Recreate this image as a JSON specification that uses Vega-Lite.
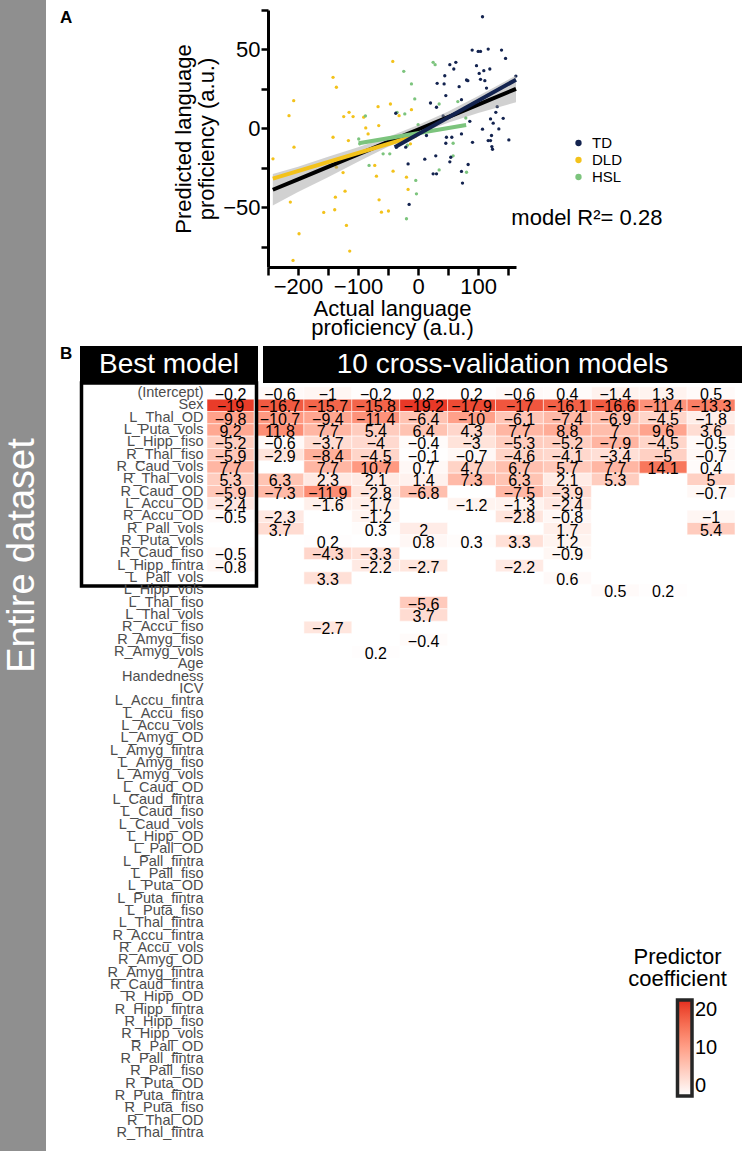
{
  "$schema": "https://vega.github.io/schema/vega-lite/v6.json",
  "width": 750,
  "height": 1151,
  "autosize": {"type": "none"},
  "padding": 0,
  "background": "white",
  "config": {
    "view": {"stroke": null},
    "font": "Liberation Sans",
    "axis": {"grid": false, "labelFont": "Liberation Sans", "titleFont": "Liberation Sans"},
    "legend": {"labelFont": "Liberation Sans", "titleFont": "Liberation Sans"}
  },
  "datasets": {
    "strip": [{"label": "Entire dataset"}],
    "points": [
      {"group": "DLD", "actual": -241.7, "predicted": -19.4},
      {"group": "DLD", "actual": -215, "predicted": 8},
      {"group": "DLD", "actual": -207.2, "predicted": 17.5},
      {"group": "DLD", "actual": -206.7, "predicted": -12},
      {"group": "DLD", "actual": -212.8, "predicted": -46.8},
      {"group": "DLD", "actual": -198.3, "predicted": -66.9},
      {"group": "DLD", "actual": -208.3, "predicted": -83.8},
      {"group": "DLD", "actual": -141.7, "predicted": 32.3},
      {"group": "DLD", "actual": -136.1, "predicted": 26},
      {"group": "DLD", "actual": -141.7, "predicted": -5.7},
      {"group": "DLD", "actual": -136.1, "predicted": -24.7},
      {"group": "DLD", "actual": -137.8, "predicted": -43.7},
      {"group": "DLD", "actual": -138.9, "predicted": -51.7},
      {"group": "DLD", "actual": -157.2, "predicted": -53.4},
      {"group": "DLD", "actual": -123.9, "predicted": 7.4},
      {"group": "DLD", "actual": -115, "predicted": 10.1},
      {"group": "DLD", "actual": -108.3, "predicted": 7.4},
      {"group": "DLD", "actual": -116.1, "predicted": -7.8},
      {"group": "DLD", "actual": -125, "predicted": -28.1},
      {"group": "DLD", "actual": -121.7, "predicted": -39.9},
      {"group": "DLD", "actual": -119.4, "predicted": -61.6},
      {"group": "DLD", "actual": -113.9, "predicted": -77.9},
      {"group": "DLD", "actual": -90.6, "predicted": 7},
      {"group": "DLD", "actual": -87.2, "predicted": 0.2},
      {"group": "DLD", "actual": -83.3, "predicted": -3.6},
      {"group": "DLD", "actual": -66.7, "predicted": 13.7},
      {"group": "DLD", "actual": -65.6, "predicted": 1.7},
      {"group": "DLD", "actual": -72.2, "predicted": -23.6},
      {"group": "DLD", "actual": -69.4, "predicted": -30.4},
      {"group": "DLD", "actual": -65, "predicted": -45.4},
      {"group": "DLD", "actual": -61.1, "predicted": -53.2},
      {"group": "DLD", "actual": -49.4, "predicted": -52.5},
      {"group": "DLD", "actual": -42.2, "predicted": 42.4},
      {"group": "DLD", "actual": -46.1, "predicted": 15.4},
      {"group": "DLD", "actual": -41.7, "predicted": -27.2},
      {"group": "DLD", "actual": -31.7, "predicted": 8},
      {"group": "DLD", "actual": -19.4, "predicted": -31},
      {"group": "DLD", "actual": -16.7, "predicted": -38.8},
      {"group": "DLD", "actual": -11.1, "predicted": 11.8},
      {"group": "DLD", "actual": -12.8, "predicted": -9.9},
      {"group": "HSL", "actual": -98.9, "predicted": -6.8},
      {"group": "HSL", "actual": -97.2, "predicted": -9.9},
      {"group": "HSL", "actual": -87.8, "predicted": 7.8},
      {"group": "HSL", "actual": -81.7, "predicted": -23.6},
      {"group": "HSL", "actual": -58.3, "predicted": -16.2},
      {"group": "HSL", "actual": -47.2, "predicted": -16.2},
      {"group": "HSL", "actual": -35, "predicted": 10.1},
      {"group": "HSL", "actual": -22.2, "predicted": 9.1},
      {"group": "HSL", "actual": -23.9, "predicted": 36.1},
      {"group": "HSL", "actual": -11.1, "predicted": 28.1},
      {"group": "HSL", "actual": -5.6, "predicted": 18.6},
      {"group": "HSL", "actual": -17.8, "predicted": -10.8},
      {"group": "HSL", "actual": -19.4, "predicted": -57.4},
      {"group": "HSL", "actual": -3.9, "predicted": -33.1},
      {"group": "HSL", "actual": -2.8, "predicted": -41.6},
      {"group": "HSL", "actual": 0, "predicted": 2.3},
      {"group": "HSL", "actual": 25, "predicted": 41.8},
      {"group": "HSL", "actual": 28.3, "predicted": 40.3},
      {"group": "HSL", "actual": 35, "predicted": 15.4},
      {"group": "HSL", "actual": 35, "predicted": -26.4},
      {"group": "HSL", "actual": 58.3, "predicted": -9.5},
      {"group": "HSL", "actual": 58.3, "predicted": -17.5},
      {"group": "HSL", "actual": 66.1, "predicted": 16.9},
      {"group": "HSL", "actual": 79.4, "predicted": 6.5},
      {"group": "HSL", "actual": 80.6, "predicted": -27.9},
      {"group": "TD", "actual": -37.2, "predicted": 9.5},
      {"group": "TD", "actual": -36.1, "predicted": -12},
      {"group": "TD", "actual": -20.6, "predicted": -12},
      {"group": "TD", "actual": -16.7, "predicted": -22.6},
      {"group": "TD", "actual": -15, "predicted": -48.3},
      {"group": "TD", "actual": 13.9, "predicted": -4.6},
      {"group": "TD", "actual": 11.1, "predicted": -19.6},
      {"group": "TD", "actual": 20.6, "predicted": 16},
      {"group": "TD", "actual": 25, "predicted": -28.9},
      {"group": "TD", "actual": 30.6, "predicted": -28.9},
      {"group": "TD", "actual": 29.4, "predicted": -17.5},
      {"group": "TD", "actual": 30.6, "predicted": 13.3},
      {"group": "TD", "actual": 31.7, "predicted": 28.5},
      {"group": "TD", "actual": 43.3, "predicted": 28.1},
      {"group": "TD", "actual": 44.4, "predicted": 33.3},
      {"group": "TD", "actual": 46.1, "predicted": 20.7},
      {"group": "TD", "actual": 41.7, "predicted": 7.8},
      {"group": "TD", "actual": 46.1, "predicted": -9.5},
      {"group": "TD", "actual": 47.2, "predicted": -5.7},
      {"group": "TD", "actual": 52.8, "predicted": 40.3},
      {"group": "TD", "actual": 52.8, "predicted": -21.3},
      {"group": "TD", "actual": 54.4, "predicted": -18.4},
      {"group": "TD", "actual": 56.1, "predicted": -5.7},
      {"group": "TD", "actual": 59.4, "predicted": 37.6},
      {"group": "TD", "actual": 62.8, "predicted": 41.8},
      {"group": "TD", "actual": 68.3, "predicted": 26.4},
      {"group": "TD", "actual": 72.2, "predicted": 18.1},
      {"group": "TD", "actual": 72.2, "predicted": -3.6},
      {"group": "TD", "actual": 72.2, "predicted": -27.4},
      {"group": "TD", "actual": 73.9, "predicted": -34.8},
      {"group": "TD", "actual": 83.3, "predicted": -23},
      {"group": "TD", "actual": 80.6, "predicted": 30.6},
      {"group": "TD", "actual": 82.8, "predicted": 30.2},
      {"group": "TD", "actual": 86.1, "predicted": 4.4},
      {"group": "TD", "actual": 90, "predicted": 49.6},
      {"group": "TD", "actual": 90.6, "predicted": -8.9},
      {"group": "TD", "actual": 97.2, "predicted": 39.7},
      {"group": "TD", "actual": 100, "predicted": 48.7},
      {"group": "TD", "actual": 103.9, "predicted": 48.7},
      {"group": "TD", "actual": 101.7, "predicted": 34.8},
      {"group": "TD", "actual": 103.9, "predicted": 31},
      {"group": "TD", "actual": 107.2, "predicted": 70.7},
      {"group": "TD", "actual": 107.2, "predicted": -0.6},
      {"group": "TD", "actual": 111.1, "predicted": 30.2},
      {"group": "TD", "actual": 109.4, "predicted": 36.5},
      {"group": "TD", "actual": 113.9, "predicted": 25.5},
      {"group": "TD", "actual": 116.7, "predicted": 50.2},
      {"group": "TD", "actual": 119.4, "predicted": 37.6},
      {"group": "TD", "actual": 120.6, "predicted": 5.9},
      {"group": "TD", "actual": 122.2, "predicted": -4.6},
      {"group": "TD", "actual": 120.6, "predicted": -7.8},
      {"group": "TD", "actual": 122.8, "predicted": -11.6},
      {"group": "TD", "actual": 123.9, "predicted": -13.3},
      {"group": "TD", "actual": 116.7, "predicted": -7.8},
      {"group": "TD", "actual": 125, "predicted": 3.2},
      {"group": "TD", "actual": 129.4, "predicted": 10.1},
      {"group": "TD", "actual": 131.7, "predicted": 13.7},
      {"group": "TD", "actual": 134.4, "predicted": -0.4},
      {"group": "TD", "actual": 138.9, "predicted": 49.6},
      {"group": "TD", "actual": 141.7, "predicted": 6.3},
      {"group": "TD", "actual": 145.6, "predicted": 44.3},
      {"group": "TD", "actual": 151.1, "predicted": -7.4},
      {"group": "TD", "actual": 162.8, "predicted": 33.1}
    ],
    "fit": [
      {"actual": -242, "fitted": -39, "lo": -49, "hi": -29},
      {"actual": -200, "fitted": -32.4, "lo": -40.4, "hi": -24.4},
      {"actual": -150, "fitted": -24.5, "lo": -31, "hi": -18},
      {"actual": -100, "fitted": -16.6, "lo": -21.2, "hi": -12},
      {"actual": -50, "fitted": -8.7, "lo": -11.8, "hi": -5.6},
      {"actual": 0, "fitted": -0.8, "lo": -3.6, "hi": 2},
      {"actual": 50, "fitted": 7.1, "lo": 3.5, "hi": 10.7},
      {"actual": 100, "fitted": 15, "lo": 9.6, "hi": 20.4},
      {"actual": 163, "fitted": 25, "lo": 16.5, "hi": 33.5}
    ],
    "groupfits": [
      {"group": "DLD", "actual": -242, "predicted": -32},
      {"group": "DLD", "actual": -3, "predicted": -4.6},
      {"group": "HSL", "actual": -99, "predicted": -9.5},
      {"group": "HSL", "actual": 80, "predicted": 2.1},
      {"group": "TD", "actual": -39, "predicted": -12},
      {"group": "TD", "actual": 163, "predicted": 30.8}
    ],
    "bestHeader": [{"panel": "Best model"}],
    "cvHeader": [{"panel": "10 cross-validation models"}],
    "best": [
      {"model": "Best model", "predictor": "(Intercept)", "coef": -0.2},
      {"model": "Best model", "predictor": "Sex", "coef": -19},
      {"model": "Best model", "predictor": "L_Thal_OD", "coef": -9.8},
      {"model": "Best model", "predictor": "L_Puta_vols", "coef": 9.2},
      {"model": "Best model", "predictor": "L_Hipp_fiso", "coef": -5.2},
      {"model": "Best model", "predictor": "R_Thal_fiso", "coef": -5.9},
      {"model": "Best model", "predictor": "R_Caud_vols", "coef": 7.7},
      {"model": "Best model", "predictor": "R_Thal_vols", "coef": 5.3},
      {"model": "Best model", "predictor": "R_Caud_OD", "coef": -5.9},
      {"model": "Best model", "predictor": "L_Accu_OD", "coef": -2.4},
      {"model": "Best model", "predictor": "R_Accu_OD", "coef": -0.5},
      {"model": "Best model", "predictor": "R_Caud_fiso", "coef": -0.5},
      {"model": "Best model", "predictor": "L_Hipp_fintra", "coef": -0.8}
    ],
    "cv": [
      {"model": "1", "predictor": "(Intercept)", "coef": -0.6},
      {"model": "2", "predictor": "(Intercept)", "coef": -1},
      {"model": "3", "predictor": "(Intercept)", "coef": -0.2},
      {"model": "4", "predictor": "(Intercept)", "coef": 0.2},
      {"model": "5", "predictor": "(Intercept)", "coef": 0.2},
      {"model": "6", "predictor": "(Intercept)", "coef": -0.6},
      {"model": "7", "predictor": "(Intercept)", "coef": 0.4},
      {"model": "8", "predictor": "(Intercept)", "coef": -1.4},
      {"model": "9", "predictor": "(Intercept)", "coef": 1.3},
      {"model": "10", "predictor": "(Intercept)", "coef": 0.5},
      {"model": "1", "predictor": "Sex", "coef": -16.7},
      {"model": "2", "predictor": "Sex", "coef": -15.7},
      {"model": "3", "predictor": "Sex", "coef": -15.8},
      {"model": "4", "predictor": "Sex", "coef": -19.2},
      {"model": "5", "predictor": "Sex", "coef": -17.9},
      {"model": "6", "predictor": "Sex", "coef": -17},
      {"model": "7", "predictor": "Sex", "coef": -16.1},
      {"model": "8", "predictor": "Sex", "coef": -16.6},
      {"model": "9", "predictor": "Sex", "coef": -11.4},
      {"model": "10", "predictor": "Sex", "coef": -13.3},
      {"model": "1", "predictor": "L_Thal_OD", "coef": -10.7},
      {"model": "2", "predictor": "L_Thal_OD", "coef": -9.4},
      {"model": "3", "predictor": "L_Thal_OD", "coef": -11.4},
      {"model": "4", "predictor": "L_Thal_OD", "coef": -6.4},
      {"model": "5", "predictor": "L_Thal_OD", "coef": -10},
      {"model": "6", "predictor": "L_Thal_OD", "coef": -6.1},
      {"model": "7", "predictor": "L_Thal_OD", "coef": -7.4},
      {"model": "8", "predictor": "L_Thal_OD", "coef": -6.9},
      {"model": "9", "predictor": "L_Thal_OD", "coef": -4.5},
      {"model": "10", "predictor": "L_Thal_OD", "coef": -1.8},
      {"model": "1", "predictor": "L_Puta_vols", "coef": 11.8},
      {"model": "2", "predictor": "L_Puta_vols", "coef": 7.7},
      {"model": "3", "predictor": "L_Puta_vols", "coef": 5.4},
      {"model": "4", "predictor": "L_Puta_vols", "coef": 6.4},
      {"model": "5", "predictor": "L_Puta_vols", "coef": 4.3},
      {"model": "6", "predictor": "L_Puta_vols", "coef": 7.7},
      {"model": "7", "predictor": "L_Puta_vols", "coef": 8.8},
      {"model": "8", "predictor": "L_Puta_vols", "coef": 7},
      {"model": "9", "predictor": "L_Puta_vols", "coef": 9.6},
      {"model": "10", "predictor": "L_Puta_vols", "coef": 3.6},
      {"model": "1", "predictor": "L_Hipp_fiso", "coef": -0.6},
      {"model": "2", "predictor": "L_Hipp_fiso", "coef": -3.7},
      {"model": "3", "predictor": "L_Hipp_fiso", "coef": -4},
      {"model": "4", "predictor": "L_Hipp_fiso", "coef": -0.4},
      {"model": "5", "predictor": "L_Hipp_fiso", "coef": -3},
      {"model": "6", "predictor": "L_Hipp_fiso", "coef": -5.3},
      {"model": "7", "predictor": "L_Hipp_fiso", "coef": -5.2},
      {"model": "8", "predictor": "L_Hipp_fiso", "coef": -7.9},
      {"model": "9", "predictor": "L_Hipp_fiso", "coef": -4.5},
      {"model": "10", "predictor": "L_Hipp_fiso", "coef": -0.5},
      {"model": "1", "predictor": "R_Thal_fiso", "coef": -2.9},
      {"model": "2", "predictor": "R_Thal_fiso", "coef": -8.4},
      {"model": "3", "predictor": "R_Thal_fiso", "coef": -4.5},
      {"model": "4", "predictor": "R_Thal_fiso", "coef": -0.1},
      {"model": "5", "predictor": "R_Thal_fiso", "coef": -0.7},
      {"model": "6", "predictor": "R_Thal_fiso", "coef": -4.6},
      {"model": "7", "predictor": "R_Thal_fiso", "coef": -4.1},
      {"model": "8", "predictor": "R_Thal_fiso", "coef": -3.4},
      {"model": "9", "predictor": "R_Thal_fiso", "coef": -5},
      {"model": "10", "predictor": "R_Thal_fiso", "coef": -0.7},
      {"model": "2", "predictor": "R_Caud_vols", "coef": 7.7},
      {"model": "3", "predictor": "R_Caud_vols", "coef": 10.7},
      {"model": "4", "predictor": "R_Caud_vols", "coef": 0.7},
      {"model": "5", "predictor": "R_Caud_vols", "coef": 4.7},
      {"model": "6", "predictor": "R_Caud_vols", "coef": 6.7},
      {"model": "7", "predictor": "R_Caud_vols", "coef": 5.7},
      {"model": "8", "predictor": "R_Caud_vols", "coef": 7.7},
      {"model": "9", "predictor": "R_Caud_vols", "coef": 14.1},
      {"model": "10", "predictor": "R_Caud_vols", "coef": 0.4},
      {"model": "1", "predictor": "R_Thal_vols", "coef": 6.3},
      {"model": "2", "predictor": "R_Thal_vols", "coef": 2.3},
      {"model": "3", "predictor": "R_Thal_vols", "coef": 2.1},
      {"model": "4", "predictor": "R_Thal_vols", "coef": 1.4},
      {"model": "5", "predictor": "R_Thal_vols", "coef": 7.3},
      {"model": "6", "predictor": "R_Thal_vols", "coef": 6.3},
      {"model": "7", "predictor": "R_Thal_vols", "coef": 2.1},
      {"model": "8", "predictor": "R_Thal_vols", "coef": 5.3},
      {"model": "10", "predictor": "R_Thal_vols", "coef": 5},
      {"model": "1", "predictor": "R_Caud_OD", "coef": -7.3},
      {"model": "2", "predictor": "R_Caud_OD", "coef": -11.9},
      {"model": "3", "predictor": "R_Caud_OD", "coef": -2.8},
      {"model": "4", "predictor": "R_Caud_OD", "coef": -6.8},
      {"model": "6", "predictor": "R_Caud_OD", "coef": -7.5},
      {"model": "7", "predictor": "R_Caud_OD", "coef": -3.9},
      {"model": "10", "predictor": "R_Caud_OD", "coef": -0.7},
      {"model": "2", "predictor": "L_Accu_OD", "coef": -1.6},
      {"model": "3", "predictor": "L_Accu_OD", "coef": -1.7},
      {"model": "5", "predictor": "L_Accu_OD", "coef": -1.2},
      {"model": "6", "predictor": "L_Accu_OD", "coef": -1.3},
      {"model": "7", "predictor": "L_Accu_OD", "coef": -2.4},
      {"model": "1", "predictor": "R_Accu_OD", "coef": -2.3},
      {"model": "3", "predictor": "R_Accu_OD", "coef": -1.2},
      {"model": "6", "predictor": "R_Accu_OD", "coef": -2.8},
      {"model": "7", "predictor": "R_Accu_OD", "coef": -0.8},
      {"model": "10", "predictor": "R_Accu_OD", "coef": -1},
      {"model": "1", "predictor": "R_Pall_vols", "coef": 3.7},
      {"model": "3", "predictor": "R_Pall_vols", "coef": 0.3},
      {"model": "4", "predictor": "R_Pall_vols", "coef": 2},
      {"model": "7", "predictor": "R_Pall_vols", "coef": 1.7},
      {"model": "10", "predictor": "R_Pall_vols", "coef": 5.4},
      {"model": "2", "predictor": "R_Puta_vols", "coef": 0.2},
      {"model": "4", "predictor": "R_Puta_vols", "coef": 0.8},
      {"model": "5", "predictor": "R_Puta_vols", "coef": 0.3},
      {"model": "6", "predictor": "R_Puta_vols", "coef": 3.3},
      {"model": "7", "predictor": "R_Puta_vols", "coef": 1.2},
      {"model": "2", "predictor": "R_Caud_fiso", "coef": -4.3},
      {"model": "3", "predictor": "R_Caud_fiso", "coef": -3.3},
      {"model": "7", "predictor": "R_Caud_fiso", "coef": -0.9},
      {"model": "3", "predictor": "L_Hipp_fintra", "coef": -2.2},
      {"model": "4", "predictor": "L_Hipp_fintra", "coef": -2.7},
      {"model": "6", "predictor": "L_Hipp_fintra", "coef": -2.2},
      {"model": "2", "predictor": "L_Pall_vols", "coef": 3.3},
      {"model": "7", "predictor": "L_Pall_vols", "coef": 0.6},
      {"model": "8", "predictor": "L_Hipp_vols", "coef": 0.5},
      {"model": "9", "predictor": "L_Hipp_vols", "coef": 0.2},
      {"model": "4", "predictor": "L_Thal_fiso", "coef": -5.6},
      {"model": "4", "predictor": "L_Thal_vols", "coef": 3.7},
      {"model": "2", "predictor": "R_Accu_fiso", "coef": -2.7},
      {"model": "4", "predictor": "R_Amyg_fiso", "coef": -0.4},
      {"model": "3", "predictor": "R_Amyg_vols", "coef": 0.2}
    ]
  },
  "layer": [
    {
      "data": {"name": "strip"},
      "encoding": {
        "x": {"field": "label", "type": "nominal", "axis": null, "scale": {"type": "band", "range": [0, 46], "paddingInner": 0, "paddingOuter": 0}},
        "y": {"field": "label", "type": "nominal", "axis": null, "scale": {"type": "band", "range": [0, 1151], "paddingInner": 0, "paddingOuter": 0}}
      },
      "layer": [
        {"mark": {"type": "rect", "color": "#8f8f8f"}},
        {"mark": {"type": "text", "angle": 270, "color": "white", "fontSize": 38, "dx": 20, "baseline": "middle", "align": "center"}, "encoding": {"text": {"field": "label"}}}
      ]
    },
    {
      "layer": [
        {
          "data": {"name": "points"},
          "mark": {"type": "circle", "size": 11, "opacity": 1},
          "encoding": {
            "x": {
              "field": "actual", "type": "quantitative",
              "scale": {"domain": [-250, 163], "range": [268, 516], "nice": false, "zero": false},
              "axis": {
                "orient": "bottom", "offset": -884,
                "values": [-250, -200, -150, -100, -50, 0, 50, 100, 150],
                "labelExpr": "datum.value % 100 === 0 ? datum.label : ''",
                "title": ["Actual language", "proficiency (a.u.)"],
                "domainColor": "black", "domainWidth": 3, "tickColor": "black", "tickWidth": 2.5, "tickSize": 8,
                "labelFontSize": 22, "labelColor": "black", "labelPadding": 1, "labelFlush": false,
                "titleFontSize": 22, "titleFontWeight": "normal", "titleColor": "black", "titleLineHeight": 19, "titlePadding": 1
              }
            },
            "y": {
              "field": "predicted", "type": "quantitative",
              "scale": {"domain": [-88, 75], "range": [267, 10], "nice": false, "zero": false},
              "axis": {
                "orient": "left", "offset": -268,
                "values": [-75, -50, -25, 0, 25, 50, 75],
                "labelExpr": "datum.value % 50 === 0 ? datum.label : ''",
                "title": ["Predicted language", "proficiency (a.u.)"],
                "domainColor": "black", "domainWidth": 3, "tickColor": "black", "tickWidth": 2.5, "tickSize": 7,
                "labelFontSize": 22, "labelColor": "black", "labelPadding": 1, "labelFlush": false,
                "titleFontSize": 22, "titleFontWeight": "normal", "titleColor": "black", "titleLineHeight": 23, "titlePadding": 4
              }
            },
            "color": {
              "field": "group", "type": "nominal",
              "scale": {"domain": ["TD", "DLD", "HSL"], "range": ["#13234f", "#f3c21b", "#7cc47d"]},
              "legend": {
                "title": null, "orient": "none", "legendX": 571, "legendY": 135.5,
                "symbolType": "circle", "symbolSize": 40, "symbolStrokeWidth": 0,
                "labelFontSize": 15, "labelColor": "black", "labelOffset": 6, "rowPadding": 1, "padding": 0
              }
            }
          }
        },
        {
          "data": {"name": "fit"},
          "mark": {"type": "area", "color": "#9a9a9a", "opacity": 0.45},
          "encoding": {
            "x": {"field": "actual", "type": "quantitative", "scale": {"domain": [-250, 163], "range": [268, 516], "nice": false, "zero": false}},
            "y": {"field": "lo", "type": "quantitative", "scale": {"domain": [-88, 75], "range": [267, 10], "nice": false, "zero": false}},
            "y2": {"field": "hi"}
          }
        },
        {
          "data": {"name": "fit"},
          "mark": {"type": "line", "color": "black", "strokeWidth": 4},
          "encoding": {
            "x": {"field": "actual", "type": "quantitative", "scale": {"domain": [-250, 163], "range": [268, 516], "nice": false, "zero": false}},
            "y": {"field": "fitted", "type": "quantitative", "scale": {"domain": [-88, 75], "range": [267, 10], "nice": false, "zero": false}}
          }
        },
        {
          "data": {"name": "groupfits"},
          "mark": {"type": "line", "strokeWidth": 4},
          "encoding": {
            "x": {"field": "actual", "type": "quantitative", "scale": {"domain": [-250, 163], "range": [268, 516], "nice": false, "zero": false}},
            "y": {"field": "predicted", "type": "quantitative", "scale": {"domain": [-88, 75], "range": [267, 10], "nice": false, "zero": false}},
            "color": {"field": "group", "type": "nominal", "legend": null}
          }
        },
        {
          "data": {"values": [{"note": "model R²= 0.28"}]},
          "mark": {"type": "text", "fontSize": 22, "color": "black", "align": "center", "baseline": "middle"},
          "encoding": {
            "x": {"datum": 281, "type": "quantitative", "scale": {"domain": [-250, 163], "range": [268, 516], "nice": false, "zero": false}},
            "y": {"datum": -57, "type": "quantitative", "scale": {"domain": [-88, 75], "range": [267, 10], "nice": false, "zero": false}},
            "text": {"field": "note"}
          }
        },
        {
          "data": {"values": [{"tag": "A"}]},
          "mark": {"type": "text", "fontSize": 17, "fontWeight": "bold", "color": "black", "align": "center", "baseline": "middle"},
          "encoding": {
            "x": {"datum": -586, "type": "quantitative", "scale": {"domain": [-250, 163], "range": [268, 516], "nice": false, "zero": false}},
            "y": {"datum": 70, "type": "quantitative", "scale": {"domain": [-88, 75], "range": [267, 10], "nice": false, "zero": false}},
            "text": {"field": "tag"}
          }
        },
        {
          "data": {"values": [{"tag": "B"}]},
          "mark": {"type": "text", "fontSize": 17, "fontWeight": "bold", "color": "black", "align": "center", "baseline": "middle"},
          "encoding": {
            "x": {"datum": -586, "type": "quantitative", "scale": {"domain": [-250, 163], "range": [268, 516], "nice": false, "zero": false}},
            "y": {"datum": -143, "type": "quantitative", "scale": {"domain": [-88, 75], "range": [267, 10], "nice": false, "zero": false}},
            "text": {"field": "tag"}
          }
        }
      ]
    },
    {
      "layer": [
        {
          "data": {"name": "best"},
          "transform": [{"calculate": "abs(datum.coef)", "as": "magnitude"}],
          "encoding": {
            "x": {"field": "model", "type": "nominal", "axis": null, "scale": {"type": "band", "domain": ["Best model"], "range": [207, 254], "paddingInner": 0, "paddingOuter": 0}},
            "y": {
              "field": "predictor", "type": "nominal",
              "scale": {"type": "band", "domain": ["(Intercept)","Sex","L_Thal_OD","L_Puta_vols","L_Hipp_fiso","R_Thal_fiso","R_Caud_vols","R_Thal_vols","R_Caud_OD","L_Accu_OD","R_Accu_OD","R_Pall_vols","R_Puta_vols","R_Caud_fiso","L_Hipp_fintra","L_Pall_vols","L_Hipp_vols","L_Thal_fiso","L_Thal_vols","R_Accu_fiso","R_Amyg_fiso","R_Amyg_vols","Age","Handedness","ICV","L_Accu_fintra","L_Accu_fiso","L_Accu_vols","L_Amyg_OD","L_Amyg_fintra","L_Amyg_fiso","L_Amyg_vols","L_Caud_OD","L_Caud_fintra","L_Caud_fiso","L_Caud_vols","L_Hipp_OD","L_Pall_OD","L_Pall_fintra","L_Pall_fiso","L_Puta_OD","L_Puta_fintra","L_Puta_fiso","L_Thal_fintra","R_Accu_fintra","R_Accu_vols","R_Amyg_OD","R_Amyg_fintra","R_Caud_fintra","R_Hipp_OD","R_Hipp_fintra","R_Hipp_fiso","R_Hipp_vols","R_Pall_OD","R_Pall_fintra","R_Pall_fiso","R_Puta_OD","R_Puta_fintra","R_Puta_fiso","R_Thal_OD","R_Thal_fintra"], "range": [386.8, 1139.2], "paddingInner": 0, "paddingOuter": 0},
              "axis": {
                "orient": "left", "offset": -207, "domain": false, "ticks": false, "title": null,
                "labelPadding": 4, "labelFontSize": 14.5, "labelColor": "#4d4d4d", "labelOverlap": false, "labelLimit": 300
              }
            }
          },
          "layer": [
            {
              "mark": {"type": "rect", "stroke": "white", "strokeWidth": 0.5},
              "encoding": {"color": {"field": "magnitude", "type": "quantitative", "scale": {"domain": [0, 20], "range": ["#ffffff", "#e62a1e"], "interpolate": "lab"}}}
            },
            {
              "mark": {"type": "text", "fontSize": 16, "dy": 2, "color": "black"},
              "encoding": {"text": {"field": "coef", "type": "quantitative", "format": ".1~f"}}
            }
          ]
        },
        {
          "data": {"name": "cv"},
          "transform": [{"calculate": "abs(datum.coef)", "as": "magnitude"}],
          "encoding": {
            "x": {"field": "model", "type": "nominal", "axis": null, "scale": {"type": "band", "domain": ["1","2","3","4","5","6","7","8","9","10"], "range": [256, 735], "paddingInner": 0, "paddingOuter": 0}},
            "y": {
              "field": "predictor", "type": "nominal",
              "scale": {"type": "band", "domain": ["(Intercept)","Sex","L_Thal_OD","L_Puta_vols","L_Hipp_fiso","R_Thal_fiso","R_Caud_vols","R_Thal_vols","R_Caud_OD","L_Accu_OD","R_Accu_OD","R_Pall_vols","R_Puta_vols","R_Caud_fiso","L_Hipp_fintra","L_Pall_vols","L_Hipp_vols","L_Thal_fiso","L_Thal_vols","R_Accu_fiso","R_Amyg_fiso","R_Amyg_vols","Age","Handedness","ICV","L_Accu_fintra","L_Accu_fiso","L_Accu_vols","L_Amyg_OD","L_Amyg_fintra","L_Amyg_fiso","L_Amyg_vols","L_Caud_OD","L_Caud_fintra","L_Caud_fiso","L_Caud_vols","L_Hipp_OD","L_Pall_OD","L_Pall_fintra","L_Pall_fiso","L_Puta_OD","L_Puta_fintra","L_Puta_fiso","L_Thal_fintra","R_Accu_fintra","R_Accu_vols","R_Amyg_OD","R_Amyg_fintra","R_Caud_fintra","R_Hipp_OD","R_Hipp_fintra","R_Hipp_fiso","R_Hipp_vols","R_Pall_OD","R_Pall_fintra","R_Pall_fiso","R_Puta_OD","R_Puta_fintra","R_Puta_fiso","R_Thal_OD","R_Thal_fintra"], "range": [386.8, 1139.2], "paddingInner": 0, "paddingOuter": 0}
            }
          },
          "layer": [
            {
              "mark": {"type": "rect", "stroke": "white", "strokeWidth": 0.5},
              "encoding": {
                "color": {
                  "field": "magnitude", "type": "quantitative",
                  "scale": {"domain": [0, 20], "range": ["#ffffff", "#e62a1e"], "interpolate": "lab"},
                  "legend": {
                    "title": ["Predictor", "coefficient"], "orient": "none", "legendX": 628.5, "legendY": 947,
                    "direction": "vertical", "values": [0, 10, 20],
                    "gradientLength": 96, "gradientThickness": 14.5, "gradientStrokeColor": "#262626", "gradientStrokeWidth": 3.5,
                    "titleFontSize": 22, "titleFontWeight": "normal", "titleColor": "black", "titleAlign": "center", "titleAnchor": "start",
                    "titleLineHeight": 22, "titlePadding": 9, "labelFontSize": 20, "labelColor": "black", "labelOffset": 3, "padding": 0
                  }
                }
              }
            },
            {
              "mark": {"type": "text", "fontSize": 16, "dy": 2, "color": "black"},
              "encoding": {"text": {"field": "coef", "type": "quantitative", "format": ".1~f"}}
            }
          ]
        }
      ],
      "resolve": {"scale": {"x": "independent"}}
    },
    {
      "data": {"name": "bestHeader"},
      "mark": {"type": "rect", "filled": false, "stroke": "black", "strokeWidth": 3.5},
      "encoding": {
        "x": {"field": "panel", "type": "nominal", "axis": null, "scale": {"type": "band", "range": [81.5, 256.5], "paddingInner": 0, "paddingOuter": 0}},
        "y": {"field": "panel", "type": "nominal", "axis": null, "scale": {"type": "band", "range": [383, 586], "paddingInner": 0, "paddingOuter": 0}}
      }
    },
    {
      "data": {"name": "bestHeader"},
      "encoding": {
        "x": {"field": "panel", "type": "nominal", "axis": null, "scale": {"type": "band", "range": [80, 258], "paddingInner": 0, "paddingOuter": 0}},
        "y": {"field": "panel", "type": "nominal", "axis": null, "scale": {"type": "band", "range": [346, 383], "paddingInner": 0, "paddingOuter": 0}}
      },
      "layer": [
        {"mark": {"type": "rect", "color": "black"}},
        {"mark": {"type": "text", "color": "white", "fontSize": 28, "baseline": "middle", "align": "center"}, "encoding": {"text": {"field": "panel"}}}
      ]
    },
    {
      "data": {"name": "cvHeader"},
      "encoding": {
        "x": {"field": "panel", "type": "nominal", "axis": null, "scale": {"type": "band", "range": [263, 742], "paddingInner": 0, "paddingOuter": 0}},
        "y": {"field": "panel", "type": "nominal", "axis": null, "scale": {"type": "band", "range": [346, 383], "paddingInner": 0, "paddingOuter": 0}}
      },
      "layer": [
        {"mark": {"type": "rect", "color": "black"}},
        {"mark": {"type": "text", "color": "white", "fontSize": 28, "baseline": "middle", "align": "center"}, "encoding": {"text": {"field": "panel"}}}
      ]
    }
  ],
  "resolve": {"scale": {"x": "independent", "y": "independent", "color": "independent"}}
}
